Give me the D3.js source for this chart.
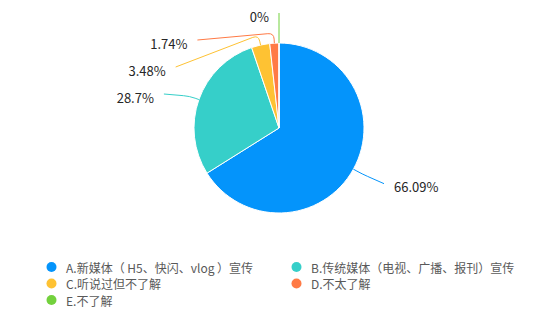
<!DOCTYPE html>
<html>
<head>
<meta charset="utf-8">
<script src="https://cdn.jsdelivr.net/npm/d3@7/dist/d3.min.js"></script>
<style>
  body { margin: 0; background: #fff; }
  text { font-family: "Noto Sans CJK SC", "Microsoft YaHei", sans-serif; }
</style>
</head>
<body>
<svg id="chart" width="550" height="315"></svg>
<script>
var categories = ["A.新媒体（ H5、快闪、vlog ）宣传", "B.传统媒体（电视、广播、报刊）宣传", "C.听说过但不了解", "D.不太了解", "E.不了解"];
var values = [66.09, 28.7, 3.48, 1.74, 0];
var labels = ["66.09%", "28.7%", "3.48%", "1.74%", "0%"];
var colors = ["#0494fb", "#36cfc9", "#fec233", "#ff7a45", "#73d13d"];

var svg = d3.select("#chart"),
  cx = 279, cy = 128,
  radius = 85,
  labelR = 115,
  lineH = 27;

var data = categories.map(function (c, i) {
  return {name: c, value: values[i], label: labels[i], color: colors[i]};
});

var pie = d3.pie()
  .sort(null)
  .value(function (d) { return d.value; });

var arcs = pie(data);

var arc = d3.arc().innerRadius(0).outerRadius(radius);

var g = svg.append("g").attr("transform", "translate(" + cx + "," + cy + ")");

g.selectAll(".slice")
  .data(arcs)
  .enter().append("path")
  .attr("class", "slice")
  .attr("d", arc)
  .attr("fill", function (d) { return d.data.color; })
  .attr("stroke", "#fff")
  .attr("stroke-width", 1);

// label layout: natural point outside the pie, then push apart on each side
function mid(d) { return (d.startAngle + d.endAngle) / 2; }

arcs.forEach(function (d) {
  var a = mid(d);
  d.side = Math.sin(a) > 0.0001 ? 1 : -1;
  d.lx = (labelR + 5) * Math.sin(a);
  d.ly = -labelR * Math.cos(a);
  d.moved = false;
});

[-1, 1].forEach(function (side) {
  var items = arcs.filter(function (d) { return d.side == side; })
    .sort(function (a, b) { return a.ly - b.ly; });
  for (var i = 1; i < items.length; i++) {
    if (items[i].ly < items[i - 1].ly + lineH) {
      items[i].ly = items[i - 1].ly + lineH;
      items[i].moved = true;
    }
  }
  items.forEach(function (d) {
    if (d.moved) {
      var R = labelR + 5;
      d.lx = side * Math.sqrt(Math.max(0, R * R - d.ly * d.ly));
    }
  });
});

function linePath(d) {
  var a = mid(d);
  var ex = radius * Math.sin(a), ey = -radius * Math.cos(a);
  var bx = (radius + 10) * Math.sin(a), by = -(radius + 10) * Math.cos(a);
  var p1x = ex + (bx - ex) * 0.4, p1y = ey + (by - ey) * 0.4;
  var dx = d.lx - bx, dy = d.ly - by, len = Math.sqrt(dx * dx + dy * dy) || 1;
  var p2x = bx + dx / len * 6, p2y = by + dy / len * 6;
  return "M" + ex + "," + ey + "L" + p1x + "," + p1y +
    "Q" + bx + "," + by + " " + p2x + "," + p2y +
    "L" + d.lx + "," + d.ly;
}

g.selectAll(".leader")
  .data(arcs)
  .enter().append("path")
  .attr("class", "leader")
  .attr("d", linePath)
  .attr("fill", "none")
  .attr("stroke", function (d) { return d.data.color; })
  .attr("stroke-width", 1);

g.selectAll(".plabel")
  .data(arcs)
  .enter().append("text")
  .attr("class", "plabel")
  .attr("x", function (d) { return d.lx + d.side * 10; })
  .attr("y", function (d) { return d.ly + 3; })
  .attr("dominant-baseline", "central")
  .attr("text-anchor", function (d) { return d.side > 0 ? "start" : "end"; })
  .style("font-size", "13px")
  .attr("fill", "#262626")
  .text(function (d) { return d.data.label; });

// legend, two columns
var colX = d3.scaleOrdinal().domain([0, 1]).range([51.5, 296.5]);
var rowY = d3.scaleLinear().domain([0, 1]).range([267, 283.5]);

var legend = svg.selectAll(".legend")
  .data(data)
  .enter().append("g")
  .attr("class", "legend")
  .attr("transform", function (d, i) {
    return "translate(" + colX(i % 2) + "," + rowY(Math.floor(i / 2)) + ")";
  });

legend.append("circle")
  .attr("r", 5)
  .attr("fill", function (d) { return d.color; });

legend.append("text")
  .attr("x", 14.5)
  .attr("dominant-baseline", "central")
  .style("font-size", "12px")
  .attr("fill", "#595959")
  .text(function (d) { return d.name; });
</script>
</body>
</html>
